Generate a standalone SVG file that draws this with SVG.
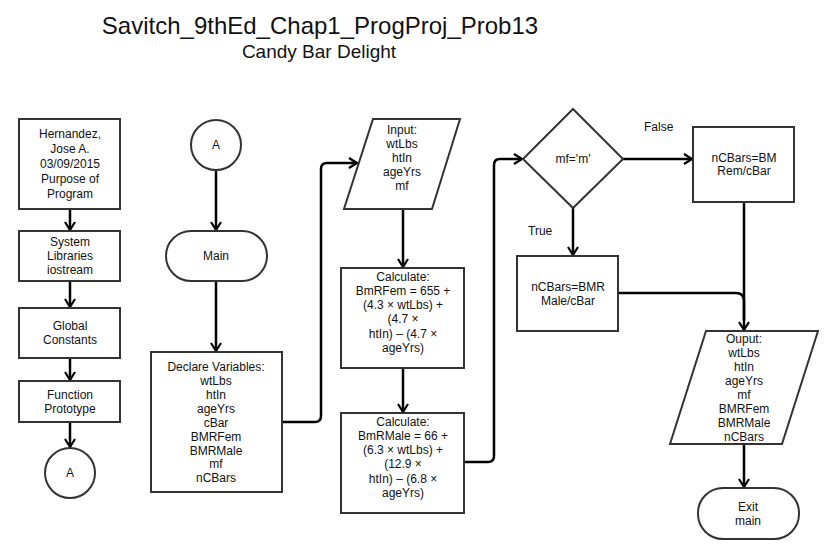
<svg xmlns="http://www.w3.org/2000/svg" width="824" height="558" viewBox="0 0 824 558">
<defs>
<style>
.shape{fill:#fff;stroke:#333;stroke-width:2}
.conn{fill:none;stroke:#000;stroke-width:2.5;stroke-linejoin:round}
text{font-family:"Liberation Sans",Arial,sans-serif;font-size:12px;fill:#111;text-anchor:middle}
.title{font-size:24px}
.sub{font-size:19px}
.lbl{text-anchor:start}
</style>
<marker id="arr" markerUnits="userSpaceOnUse" markerWidth="14" markerHeight="14" viewBox="-10 -7 12 14" refX="0" refY="0" orient="auto">
<path d="M-8,-5 L0,0 L-8,5" fill="none" stroke="#000" stroke-width="2.2"/>
</marker>
</defs>
<rect width="824" height="558" fill="#fff"/>
<g id="title">
<text class="title" x="320" y="34">Savitch_9thEd_Chap1_ProgProj_Prob13</text>
<text class="sub" x="319" y="58">Candy Bar Delight</text>
</g>
<g id="connectors">
<path class="conn" marker-end="url(#arr)" d="M70,209 V230"/>
<path class="conn" marker-end="url(#arr)" d="M70,281 V307"/>
<path class="conn" marker-end="url(#arr)" d="M70,358 V380"/>
<path class="conn" marker-end="url(#arr)" d="M70,422 V447"/>
<path class="conn" marker-end="url(#arr)" d="M216,170 V230"/>
<path class="conn" marker-end="url(#arr)" d="M216,281 V351"/>
<path class="conn" marker-end="url(#arr)" d="M282,422 H315 Q321,422 321,416 V169 Q321,163 327,163 H357"/>
<path class="conn" marker-end="url(#arr)" d="M403,209 V267"/>
<path class="conn" marker-end="url(#arr)" d="M403,368 V412"/>
<path class="conn" marker-end="url(#arr)" d="M464,462 H488 Q494,462 494,456 V165 Q494,159 500,159 H522"/>
<path class="conn" marker-end="url(#arr)" d="M623,159 H692"/>
<path class="conn" marker-end="url(#arr)" d="M573,208 V255"/>
<path class="conn" marker-end="url(#arr)" d="M744,202 V330"/>
<path class="conn" d="M617,293 H736 Q744,293 744,301 V320"/>
<path class="conn" marker-end="url(#arr)" d="M744,444 V487"/>
<text class="lbl" x="644" y="131">False</text>
<text class="lbl" x="528" y="235">True</text>
</g>
<g id="header">
<rect class="shape" x="19" y="119" width="101" height="90"/>
<text x="70" y="138">Hernandez,</text>
<text x="70" y="153">Jose A.</text>
<text x="70" y="168">03/09/2015</text>
<text x="70" y="183">Purpose of</text>
<text x="70" y="198">Program</text>
</g>
<g id="libraries">
<rect class="shape" x="19" y="231" width="101" height="50"/>
<text x="70" y="246">System</text>
<text x="70" y="260">Libraries</text>
<text x="70" y="274">iostream</text>
</g>
<g id="constants">
<rect class="shape" x="19" y="308" width="101" height="50"/>
<text x="70" y="330">Global</text>
<text x="70" y="344">Constants</text>
</g>
<g id="prototype">
<rect class="shape" x="19" y="381" width="101" height="41"/>
<text x="70" y="399">Function</text>
<text x="70" y="413">Prototype</text>
</g>
<g id="connA1">
<circle class="shape" cx="70" cy="473" r="25"/>
<text x="70" y="477">A</text>
</g>
<g id="connA2">
<circle class="shape" cx="216" cy="145" r="25"/>
<text x="216" y="149">A</text>
</g>
<g id="main">
<rect class="shape" x="166" y="231" width="101" height="50" rx="25" ry="25"/>
<text x="216" y="260">Main</text>
</g>
<g id="declare">
<rect class="shape" x="151" y="352" width="131" height="140"/>
<text x="216" y="371">Declare Variables:</text>
<text x="216" y="385">wtLbs</text>
<text x="216" y="399">htIn</text>
<text x="216" y="413">ageYrs</text>
<text x="216" y="427">cBar</text>
<text x="216" y="441">BMRFem</text>
<text x="216" y="455">BMRMale</text>
<text x="216" y="468">mf</text>
<text x="216" y="482">nCBars</text>
</g>
<g id="input">
<polygon class="shape" points="373,119 460,119 432,209 344,209"/>
<text x="402" y="134">Input:</text>
<text x="402" y="148">wtLbs</text>
<text x="402" y="162">htIn</text>
<text x="402" y="176">ageYrs</text>
<text x="402" y="190">mf</text>
</g>
<g id="calcFem">
<rect class="shape" x="341" y="268" width="123" height="100"/>
<text x="403" y="281">Calculate:</text>
<text x="403" y="295">BmRFem = 655 +</text>
<text x="403" y="309">(4.3 × wtLbs) +</text>
<text x="403" y="323">(4.7 ×</text>
<text x="403" y="338">htIn) – (4.7 ×</text>
<text x="403" y="352">ageYrs)</text>
</g>
<g id="calcMale">
<rect class="shape" x="341" y="413" width="123" height="100"/>
<text x="403" y="426">Calculate:</text>
<text x="403" y="440">BmRMale = 66 +</text>
<text x="403" y="454">(6.3 × wtLbs) +</text>
<text x="403" y="468">(12.9 ×</text>
<text x="403" y="483">htIn) – (6.8 ×</text>
<text x="403" y="497">ageYrs)</text>
</g>
<g id="decision">
<polygon class="shape" points="573,109 623,159 573,208 523,159"/>
<text x="573" y="163">mf='m'</text>
</g>
<g id="falseBox">
<rect class="shape" x="693" y="127" width="101" height="75"/>
<text x="744" y="162">nCBars=BM</text>
<text x="744" y="175">Rem/cBar</text>
</g>
<g id="trueBox">
<rect class="shape" x="517" y="256" width="101" height="75"/>
<text x="568" y="291">nCBars=BMR</text>
<text x="568" y="305">Male/cBar</text>
</g>
<g id="output">
<polygon class="shape" points="706,331 818,331 782,444 670,444"/>
<text x="744" y="343">Ouput:</text>
<text x="744" y="357">wtLbs</text>
<text x="744" y="371">htIn</text>
<text x="744" y="385">ageYrs</text>
<text x="744" y="399">mf</text>
<text x="744" y="413">BMRFem</text>
<text x="744" y="427">BMRMale</text>
<text x="744" y="441">nCBars</text>
</g>
<g id="exit">
<rect class="shape" x="698" y="488" width="101" height="51" rx="25" ry="25"/>
<text x="748" y="511">Exit</text>
<text x="748" y="525">main</text>
</g>
</svg>
